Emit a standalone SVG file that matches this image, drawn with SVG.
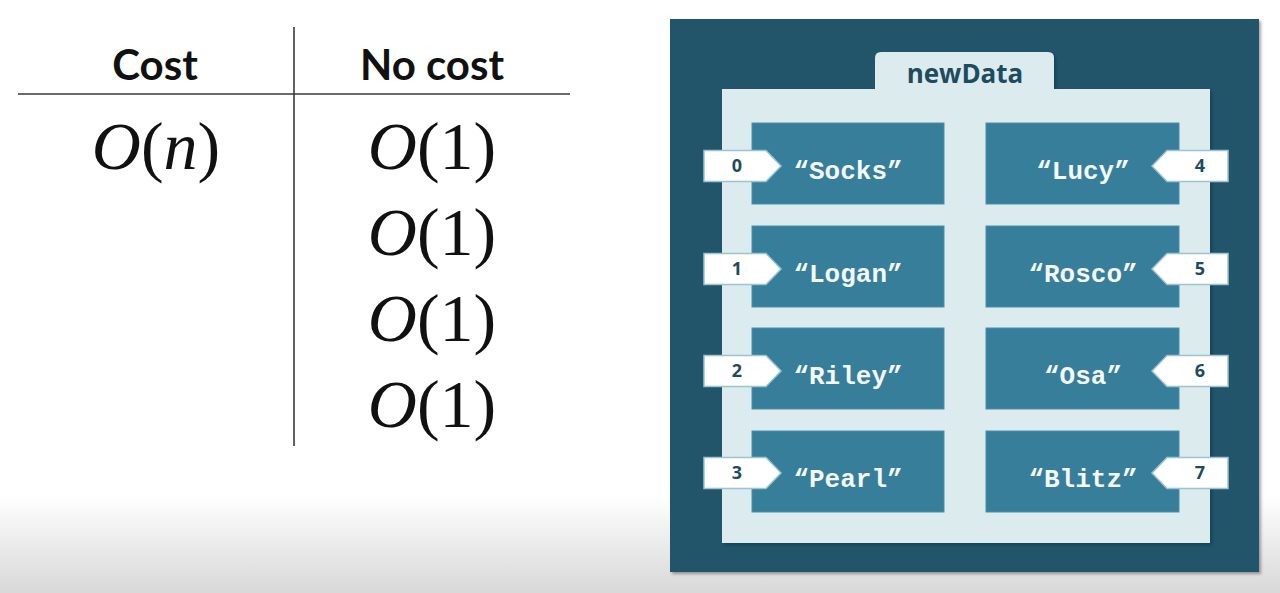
<svg xmlns="http://www.w3.org/2000/svg" width="1280" height="593" viewBox="0 0 1280 593">
  <defs>
    <linearGradient id="floor" x1="0" y1="0" x2="0" y2="1">
      <stop offset="0" stop-color="#ffffff"/>
      <stop offset="1" stop-color="#d8d8d8"/>
    </linearGradient>
    <filter id="shadow" x="-5%" y="-5%" width="110%" height="110%">
      <feDropShadow dx="2" dy="2" stdDeviation="1.5" flood-color="#000" flood-opacity="0.35"/>
    </filter>
    <filter id="softShadow" x="-5%" y="-5%" width="110%" height="110%">
      <feDropShadow dx="2" dy="2" stdDeviation="1.5" flood-color="#0b2a38" flood-opacity="0.45"/>
    </filter>
    <style>
      .rule { stroke: #3a3a3a; stroke-width: 1.6; fill: none; }
      .head { font-family: Lato, "Open Sans", sans-serif; font-weight: 700; font-size: 42px; fill: #111; text-anchor: middle; }
      .big { font-family: "Liberation Serif", "Times New Roman", serif; font-size: 68px; fill: #111; text-anchor: middle; }
      .it { font-style: italic; }
      .panel { fill: #225469; }
      .sheet { fill: #dcebee; }
      .cell { fill: #367e9a; stroke: #4b8fa8; stroke-width: 1; }
      .tag { fill: #ffffff; stroke: #9cc3d1; stroke-width: 1.5; }
      .num { font-family: "Open Sans", "Noto Sans", sans-serif; font-weight: 700; font-size: 18px; fill: #1f4b5f; text-anchor: middle; }
      .name { font-family: "Liberation Mono", "DejaVu Sans Mono", monospace; font-weight: 700; font-size: 26px; fill: #f4f8f9; text-anchor: middle; }
      .title { font-family: "Open Sans", "Noto Sans", sans-serif; font-weight: 700; font-size: 26px; fill: #1f4b5f; text-anchor: middle; }
    </style>
  </defs>

  <!-- backdrop -->
  <rect x="0" y="0" width="1280" height="593" fill="#ffffff"/>
  <rect x="0" y="495" width="1280" height="98" fill="url(#floor)"/>

  <!-- cost table -->
  <g id="cost-table">
    <line class="rule" x1="18" y1="94" x2="570" y2="94"/>
    <line class="rule" x1="294" y1="27" x2="294" y2="446"/>
    <text class="head" x="155" y="80">Cost</text>
    <text class="head" x="432" y="80">No cost</text>
    <text class="big" x="156" y="169"><tspan class="it">O</tspan>(<tspan class="it">n</tspan>)</text>
    <text class="big" x="432" y="169"><tspan class="it">O</tspan>(1)</text>
    <text class="big" x="432" y="255"><tspan class="it">O</tspan>(1)</text>
    <text class="big" x="432" y="341"><tspan class="it">O</tspan>(1)</text>
    <text class="big" x="432" y="427"><tspan class="it">O</tspan>(1)</text>
  </g>

  <!-- array container -->
  <g id="newData">
    <rect class="panel" x="670" y="19" width="589" height="553" filter="url(#shadow)"/>
    <g filter="url(#softShadow)">
      <path class="sheet" d="M875,90 V58 Q875,52 881,52 H1048 Q1054,52 1054,58 V90 Z"/>
      <rect class="sheet" x="722" y="89" width="488" height="454"/>
    </g>
    <rect class="sheet" x="876" y="80" width="177" height="14"/>
    <text class="title" x="965" y="83">newData</text>
  </g>

  <!-- slots, left column -->
  <g id="slot-0">
    <rect class="cell" x="752" y="123" width="192" height="81"/>
    <polygon class="tag" points="704,150.5 766,150.5 781,166 766,181.5 704,181.5"/>
    <text class="num" x="737" y="172">0</text>
    <text class="name" x="848" y="179">“Socks”</text>
  </g>
  <g id="slot-1">
    <rect class="cell" x="752" y="226" width="192" height="81"/>
    <polygon class="tag" points="704,253.5 766,253.5 781,269 766,284.5 704,284.5"/>
    <text class="num" x="737" y="275">1</text>
    <text class="name" x="848" y="282">“Logan”</text>
  </g>
  <g id="slot-2">
    <rect class="cell" x="752" y="328" width="192" height="81"/>
    <polygon class="tag" points="704,355.5 766,355.5 781,371 766,386.5 704,386.5"/>
    <text class="num" x="737" y="377">2</text>
    <text class="name" x="848" y="384">“Riley”</text>
  </g>
  <g id="slot-3">
    <rect class="cell" x="752" y="431" width="192" height="81"/>
    <polygon class="tag" points="704,457.5 766,457.5 781,473 766,488.5 704,488.5"/>
    <text class="num" x="737" y="479">3</text>
    <text class="name" x="848" y="487">“Pearl”</text>
  </g>

  <!-- slots, right column -->
  <g id="slot-4">
    <rect class="cell" x="986" y="123" width="193" height="81"/>
    <polygon class="tag" points="1228,150.5 1167,150.5 1152,166 1167,181.5 1228,181.5"/>
    <text class="num" x="1200" y="172">4</text>
    <text class="name" x="1083" y="179">“Lucy”</text>
  </g>
  <g id="slot-5">
    <rect class="cell" x="986" y="226" width="193" height="81"/>
    <polygon class="tag" points="1228,253.5 1167,253.5 1152,269 1167,284.5 1228,284.5"/>
    <text class="num" x="1200" y="275">5</text>
    <text class="name" x="1083" y="282">“Rosco”</text>
  </g>
  <g id="slot-6">
    <rect class="cell" x="986" y="328" width="193" height="81"/>
    <polygon class="tag" points="1228,355.5 1167,355.5 1152,371 1167,386.5 1228,386.5"/>
    <text class="num" x="1200" y="377">6</text>
    <text class="name" x="1083" y="384">“Osa”</text>
  </g>
  <g id="slot-7">
    <rect class="cell" x="986" y="431" width="193" height="81"/>
    <polygon class="tag" points="1228,457.5 1167,457.5 1152,473 1167,488.5 1228,488.5"/>
    <text class="num" x="1200" y="479">7</text>
    <text class="name" x="1083" y="487">“Blitz”</text>
  </g>

  <!-- no connectors in this figure -->
  <g id="connectors"/>
</svg>
